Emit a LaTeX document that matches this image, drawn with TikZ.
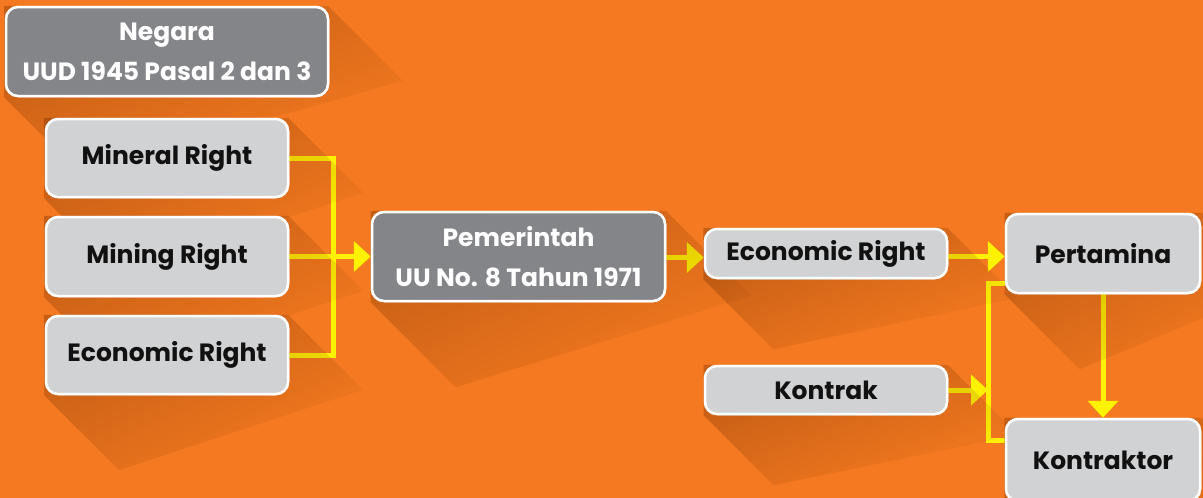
\documentclass[tikz,border=0pt]{standalone}
\usepackage{fontspec}
\setmainfont{Poppins}
\usetikzlibrary{arrows.meta,calc,fadings}
\definecolor{bg}{HTML}{F47920}
\definecolor{boxgray}{HTML}{848589}
\definecolor{boxlight}{HTML}{D1D2D4}
\definecolor{yel}{HTML}{FFF200}
\definecolor{txt}{HTML}{111111}
\definecolor{shd}{HTML}{6A2A00}
\tikzset{
  base/.style={draw=white, line width=2.5pt, rounded corners=12pt, align=center,
    font=\fontsize{25}{40}\selectfont\bfseries, inner sep=0pt},
  darkbox/.style={base, fill=boxgray, text=white},
  lightbox/.style={base, fill=boxlight, text=txt},
  conn/.style={draw=yel, line width=5pt},
  arr/.style={conn, -{Triangle[width=30pt,length=17pt]}},
  shadowfill/.style={fill=shd, opacity=0.33, path fading=east, fading angle=-45}
}
\newcommand{\boxshadow}[2]{%
  \fill[shadowfill] (#1.north east) -- ++(#2,#2) -- ($(#1.south west)+(#2,#2)$) -- (#1.south west) -- (#1.north west) -- cycle;}
\begin{document}
\begin{tikzpicture}[x=1pt,y=-1pt]
\fill[bg] (0,0) rectangle (1203,498);
\useasboundingbox (0,0) rectangle (1203,498);
% nodes (placed first for coordinates, redrawn later)
\path
  node[darkbox, minimum width=322pt, minimum height=89pt] (neg) at (167,51.5) {Negara\\UUD 1945 Pasal 2 dan 3}
  node[lightbox, minimum width=242pt, minimum height=78pt] (mineral) at (167,158) {Mineral Right}
  node[lightbox, minimum width=242pt, minimum height=79pt] (mining) at (167,256.5) {Mining Right}
  node[lightbox, minimum width=242pt, minimum height=78pt] (econL) at (167,355) {Economic Right}
  node[darkbox, minimum width=293pt, minimum height=89pt] (pem) at (518.5,256.5) {Pemerintah\\UU No. 8 Tahun 1971}
  node[lightbox, minimum width=242pt, minimum height=49pt] (econM) at (826,253.5) {Economic Right}
  node[lightbox, minimum width=194pt, minimum height=79pt] (pert) at (1103,253.5) {Pertamina}
  node[lightbox, minimum width=242pt, minimum height=48pt] (kontrak) at (826,390) {Kontrak}
  node[lightbox, minimum width=194pt, minimum height=82pt] (kontraktor) at (1103,460) {Kontraktor};
% connectors
\coordinate (bus) at (988,283);
\draw[conn] (mineral.east) -- ++(44,0) |- (econL.east);
\draw[arr] (mining.east) -- (pem.west);
\draw[arr] ([yshift=-1pt]pem.east) -- ([yshift=-1pt]econM.west |- pem.east);
\draw[arr] ([yshift=-3pt]econM.east) -- ([yshift=-3pt]pert.west);
\draw[arr] (pert.south) -- (kontraktor.north);
\draw[conn] ([yshift=-29.5pt]pert.west) -- (bus) |- ([yshift=20pt]kontraktor.west);
\draw[arr] (kontrak.east) -- (kontrak.east -| bus);
% shadows
\boxshadow{neg}{75}
\boxshadow{mineral}{75}
\boxshadow{mining}{75}
\boxshadow{econL}{75}
\boxshadow{pem}{85}
\boxshadow{econM}{70}
\boxshadow{pert}{75}
\boxshadow{kontrak}{70}
\boxshadow{kontraktor}{70}
% boxes on top
\path
  node[darkbox, minimum width=322pt, minimum height=89pt] at (neg) {Negara\\UUD 1945 Pasal 2 dan 3}
  node[lightbox, minimum width=242pt, minimum height=78pt] at (mineral) {Mineral Right}
  node[lightbox, minimum width=242pt, minimum height=79pt] at (mining) {Mining Right}
  node[lightbox, minimum width=242pt, minimum height=78pt] at (econL) {Economic Right}
  node[darkbox, minimum width=293pt, minimum height=89pt] at (pem) {Pemerintah\\UU No. 8 Tahun 1971}
  node[lightbox, minimum width=242pt, minimum height=49pt] at (econM) {Economic Right}
  node[lightbox, minimum width=194pt, minimum height=79pt] at (pert) {Pertamina}
  node[lightbox, minimum width=242pt, minimum height=48pt] at (kontrak) {Kontrak}
  node[lightbox, minimum width=194pt, minimum height=82pt] at (kontraktor) {Kontraktor};
\end{tikzpicture}
\end{document}
